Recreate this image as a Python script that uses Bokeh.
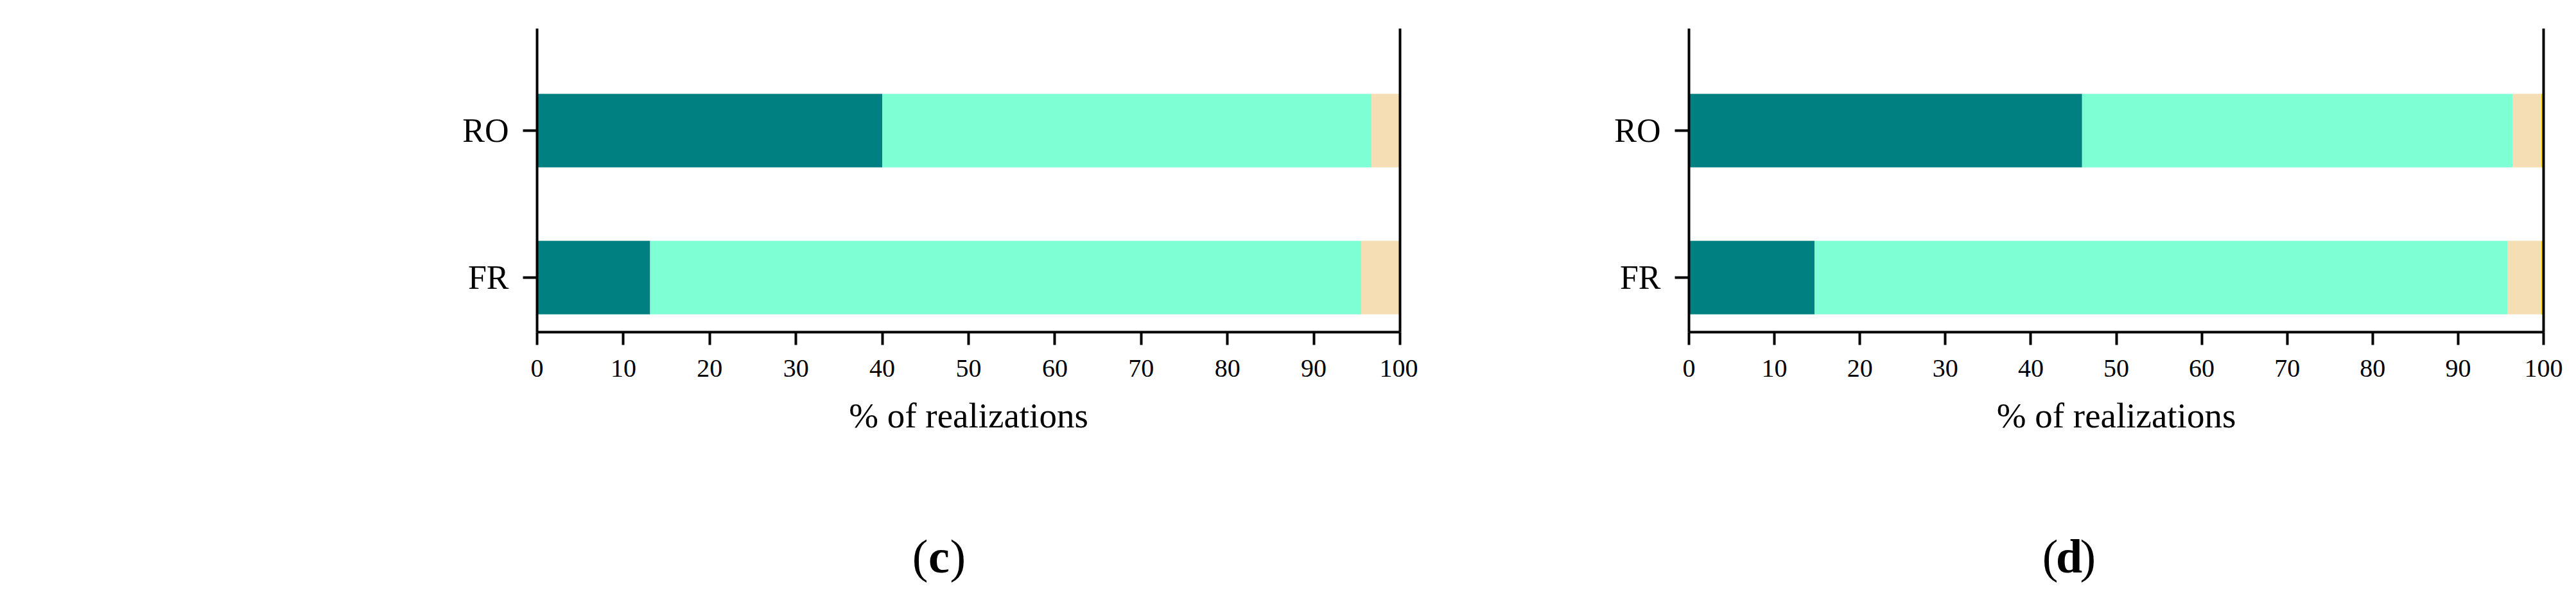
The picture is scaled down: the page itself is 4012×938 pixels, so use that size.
from bokeh.plotting import figure
from bokeh.models import (ColumnDataSource, Range1d, FixedTicker, LinearAxis)
from bokeh.layouts import row, column
from bokeh.core.properties import value
from bokeh.embed import file_html
from bokeh.resources import INLINE

# ---------------- data ----------------
categories = ["FR", "RO"]
series = ["s1", "s2", "s3", "s4"]
colors = ["#008080", "#7FFFD4", "#F5DEB3", "#FFD700"]
x_ticks = [0, 10, 20, 30, 40, 50, 60, 70, 80, 90, 100]
x_label = "% of realizations"

# panel (c)
c_s1 = [13.1, 40.0]
c_s2 = [82.4, 56.7]
c_s3 = [4.5, 3.3]
c_s4 = [0.0, 0.0]

# panel (d)
d_s1 = [14.7, 46.0]
d_s2 = [81.1, 50.4]
d_s3 = [3.9, 3.3]
d_s4 = [0.3, 0.3]

FONT = "Liberation Serif"
MAIN_H = 740
CAP_H = 180


def make_panel(vals, width, border_left, frame_w):
    height = MAIN_H
    border_top = 44
    frame_h = 473
    src = ColumnDataSource(dict(y=list(range(len(categories))),
                                s1=vals[0], s2=vals[1], s3=vals[2], s4=vals[3]))
    p = figure(width=width, height=height,
               x_range=Range1d(0, 100), y_range=Range1d(-0.371, 1.694),
               output_backend="svg", toolbar_location=None,
               min_border_left=border_left,
               min_border_right=width - border_left - frame_w,
               min_border_top=border_top,
               min_border_bottom=height - border_top - frame_h,
               x_axis_label=x_label)
    p.hbar_stack(series, y="y", height=0.5, color=colors, line_color=None, source=src)

    p.grid.visible = False
    p.outline_line_color = None
    p.background_fill_color = "white"
    p.border_fill_color = "white"

    xa = p.xaxis[0]
    xa.ticker = FixedTicker(ticks=x_ticks)
    xa.minor_tick_line_color = None
    xa.major_tick_in = 0
    xa.major_tick_out = 20
    xa.major_tick_line_width = 4
    xa.axis_line_width = 4
    xa.axis_line_color = "black"
    xa.major_tick_line_color = "black"
    xa.major_label_text_font = FONT
    xa.major_label_text_font_size = "40px"
    xa.major_label_text_color = "black"
    xa.major_label_standoff = 23
    xa.axis_label_text_font = FONT
    xa.axis_label_text_font_size = "55px"
    xa.axis_label_text_font_style = "normal"
    xa.axis_label_text_color = "black"
    xa.axis_label_standoff = 27

    ya = p.yaxis[0]
    ya.ticker = FixedTicker(ticks=list(range(len(categories))))
    ya.major_label_overrides = {i: c for i, c in enumerate(categories)}
    ya.minor_tick_line_color = None
    ya.major_tick_in = 0
    ya.major_tick_out = 22
    ya.major_tick_line_width = 4
    ya.axis_line_width = 4
    ya.axis_line_color = "black"
    ya.major_tick_line_color = "black"
    ya.major_label_text_font = FONT
    ya.major_label_text_font_size = "52px"
    ya.major_label_text_color = "black"
    ya.major_label_standoff = 22

    ra = LinearAxis(ticker=FixedTicker(ticks=[]), axis_line_width=4,
                    axis_line_color="black", major_label_text_font_size="0px",
                    minor_tick_line_color=None, major_tick_line_color=None)
    p.add_layout(ra, "right")
    return p


def make_caption(letter, width, cx):
    c = figure(width=width, height=CAP_H, x_range=Range1d(0, width),
               y_range=Range1d(0, CAP_H), output_backend="svg",
               toolbar_location=None, x_axis_type=None, y_axis_type=None,
               min_border=0, min_border_left=0, min_border_right=0,
               min_border_top=0, min_border_bottom=0)
    c.grid.visible = False
    c.outline_line_color = None
    base = 54
    c.text(x=[cx - 17], y=[base], text=["("], text_font=value(FONT),
           text_font_size="74px", text_align="right", text_baseline="alphabetic",
           text_color="black")
    c.text(x=[cx], y=[base], text=[letter], text_font=value(FONT),
           text_font_size="74px", text_font_style="bold", text_align="center",
           text_baseline="alphabetic", text_color="black")
    c.text(x=[cx + 17], y=[base], text=[")"], text_font=value(FONT),
           text_font_size="74px", text_align="left", text_baseline="alphabetic",
           text_color="black")
    return c


pc = make_panel([c_s1, c_s2, c_s3, c_s4], 2208, 836, 1344)
pd = make_panel([d_s1, d_s2, d_s3, d_s4], 1788, 422, 1331)
cc = make_caption("c", 2208, 1462)
cd = make_caption("d", 1788, 1014)

layout = column(row(pc, pd), row(cc, cd))
open("out.html", "w").write(file_html(layout, INLINE))
